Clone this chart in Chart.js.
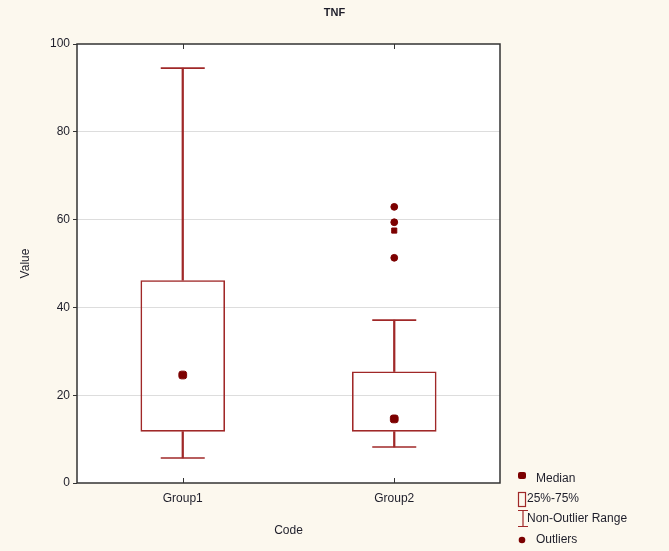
<!DOCTYPE html>
<html>
<head>
<meta charset="utf-8">
<script src="https://cdn.jsdelivr.net/npm/chart.js@4/dist/chart.umd.min.js"></script>
<style>
  html, body { margin: 0; padding: 0; background: #fcf8ee; }
  #wrap { width: 669px; height: 551px; }
</style>
</head>
<body>
<div id="wrap"><canvas id="myChart"></canvas></div>
<script>
const categories = ["Group1", "Group2"];
const lowerWhisker = [5.7, 8.2];
const q1 = [11.7, 11.7];
const medians = [24.6, 14.6];
const q3 = [46.2, 25.4];
const upperWhisker = [94.5, 37.1];
const outlierGroup = ["Group2", "Group2", "Group2", "Group2"];
const outlierValues = [62.9, 59.4, 57.5, 51.3];
const yTicks = [0, 20, 40, 60, 80, 100];

const boxColor = "#a02828";
const dotColor = "#7c0000";
const textColor = "#1e1e2a";
const font = "'Liberation Sans', Arial, sans-serif";

// page background, white plot area, frame, inner category ticks, title and legend
const frame = {
    id: "frame",
    beforeDraw(chart) {
        const { ctx, chartArea: a } = chart;
        ctx.save();
        ctx.fillStyle = "#fcf8ee";
        ctx.fillRect(0, 0, chart.width, chart.height);
        ctx.fillStyle = "#ffffff";
        ctx.fillRect(a.left, a.top, a.right - a.left, a.bottom - a.top);
        ctx.restore();
    },
    afterDraw(chart) {
        const { ctx, chartArea: a } = chart;
        const x = chart.scales.x;
        ctx.save();
        ctx.strokeStyle = "#333333";
        ctx.lineWidth = 1.5;
        ctx.strokeRect(a.left, a.top, a.right - a.left, a.bottom - a.top);
        ctx.lineWidth = 1;
        categories.forEach((c, i) => {
            const px = Math.round(x.getPixelForValue(i)) + 0.5;
            ctx.beginPath();
            ctx.moveTo(px, a.bottom); ctx.lineTo(px, a.bottom - 5);
            ctx.moveTo(px, a.top); ctx.lineTo(px, a.top + 5);
            ctx.stroke();
        });

        // title, centred on the page
        ctx.fillStyle = textColor;
        ctx.textAlign = "center";
        ctx.textBaseline = "middle";
        ctx.font = "bold 11px " + font;
        ctx.fillText("TNF", chart.width / 2, 13);

        // legend
        ctx.textAlign = "left";
        ctx.font = "12px " + font;
        ctx.fillText("Median", 536, 479);
        ctx.fillText("25%-75%", 527, 499);
        ctx.fillText("Non-Outlier Range", 527, 519);
        ctx.fillText("Outliers", 536, 540);

        ctx.fillStyle = dotColor;
        ctx.beginPath();
        ctx.roundRect(518, 472, 8, 7, 2);
        ctx.fill();
        ctx.beginPath();
        ctx.arc(522, 540, 3.3, 0, Math.PI * 2);
        ctx.fill();

        ctx.strokeStyle = boxColor;
        ctx.lineWidth = 1.2;
        ctx.strokeRect(518.5, 492.5, 7, 14);
        ctx.beginPath();
        ctx.moveTo(518, 510.5); ctx.lineTo(528, 510.5);
        ctx.moveTo(523, 510.5); ctx.lineTo(523, 526.5);
        ctx.moveTo(518, 526.5); ctx.lineTo(528, 526.5);
        ctx.stroke();
        ctx.restore();
    }
};

new Chart("myChart", {
    data: {
        labels: categories,
        datasets: [
            {
                type: "bar",
                data: categories.map((c, i) => [lowerWhisker[i], q1[i]]),
                backgroundColor: boxColor,
                barThickness: 1.6,
                grouped: false,
                order: 5,
            },
            {
                type: "bar",
                data: categories.map((c, i) => [q3[i], upperWhisker[i]]),
                backgroundColor: boxColor,
                barThickness: 1.6,
                grouped: false,
                order: 5,
            },
            {
                type: "bar",
                data: categories.map((c, i) => [q1[i], q3[i]]),
                backgroundColor: "rgba(255,255,255,0)",
                borderColor: boxColor,
                borderWidth: 1.6,
                borderSkipped: false,
                barPercentage: 0.4,
                categoryPercentage: 1,
                grouped: false,
                order: 4,
            },
            {
                type: "line",
                data: lowerWhisker.map((v, i) => ({ x: categories[i], y: v }))
                    .concat(upperWhisker.map((v, i) => ({ x: categories[i], y: v }))),
                showLine: false,
                pointStyle: "line",
                pointRadius: 22,
                borderColor: boxColor,
                pointBorderWidth: 1.6,
                order: 3,
            },
            {
                type: "line",
                data: medians,
                showLine: false,
                pointStyle: "rectRounded",
                pointRadius: 4.5,
                backgroundColor: dotColor,
                borderColor: dotColor,
                order: 1,
            },
            {
                type: "line",
                data: outlierValues.map((v, i) => ({ x: outlierGroup[i], y: v })),
                showLine: false,
                pointStyle: ["circle", "circle", "rect", "circle"],
                pointRadius: [3.4, 3.4, 3.6, 3.4],
                backgroundColor: dotColor,
                borderColor: dotColor,
                order: 1,
            },
        ],
    },
    options: {
        responsive: true,
        maintainAspectRatio: false,
        animation: false,
        layout: { padding: { left: 14, right: 169, top: 44, bottom: 9 } },
        plugins: {
            legend: { display: false },
            tooltip: { enabled: false },
            title: { display: false },
        },
        scales: {
            x: {
                type: "category",
                offset: true,
                grid: { display: false, drawTicks: false },
                border: { display: false },
                ticks: { color: textColor, font: { family: font, size: 12 }, padding: 8 },
                title: { display: true, text: "Code", color: textColor, font: { family: font, size: 12 } },
                afterFit: s => { s.height = 59; },
            },
            y: {
                min: 0,
                max: 100,
                afterBuildTicks: s => { s.ticks = yTicks.map(v => ({ value: v })); },
                grid: {
                    color: c => (c.tick && (c.tick.value === 0 || c.tick.value === 100)) ? "rgba(0,0,0,0)" : "#dddddd",
                    tickColor: "#333333",
                    tickLength: 4,
                },
                border: { display: false },
                ticks: { color: textColor, font: { family: font, size: 12 }, padding: 3 },
                title: { display: true, text: "Value", color: textColor, font: { family: font, size: 12 } },
                afterFit: s => { s.width = 63; },
            },
        },
    },
    plugins: [frame],
});
</script>
</body>
</html>
